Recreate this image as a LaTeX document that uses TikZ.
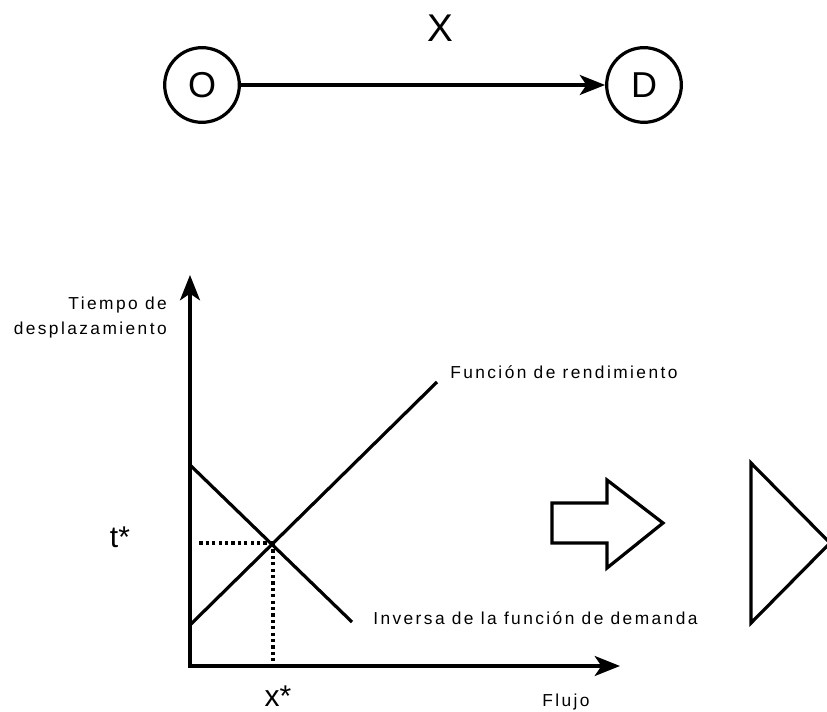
\documentclass[tikz,border=0pt]{standalone}
\usepackage{fontspec}
\setmainfont{Liberation Sans}
\newfontfamily\lblfont[LetterSpace=14]{Liberation Sans}
\usetikzlibrary{arrows.meta}

\begin{document}
\begin{tikzpicture}[x=0.75pt, y=-0.75pt,
  stop/.style={draw, circle, line width=2.4pt, minimum size=56pt, inner sep=0pt, font=\fontsize{27}{32}\selectfont},
  big/.style={font=\fontsize{29}{34}\selectfont, inner sep=0pt},
  mid/.style={font=\fontsize{22.5}{27}\selectfont, inner sep=0pt},
  lbl/.style={font=\lblfont\fontsize{13}{18.75}\selectfont, inner sep=0pt},
  arr/.style={-{Stealth[length=19pt, width=15pt, inset=5pt]}, line width=2.4pt},
  axis/.style={{Stealth[length=19pt, width=15pt, inset=5pt]}-{Stealth[length=19pt, width=15pt, inset=5pt]}, line width=2.4pt},
  ln/.style={line width=2.4pt},
  guide/.style={line width=2.4pt, dash pattern=on 2.4pt off 2.4pt}
]
  \useasboundingbox (0,0) rectangle (827,712);

  \node[stop] (O) at (202,85) {O};
  \node[stop] (D) at (644,85) {D};
  \node[big] (flow) at (440,28) {X};
  \draw[arr] (O) -- (D);

  \coordinate (orig) at (190,666);
  \coordinate (ytop) at (190,275);
  \coordinate (xend) at (620,666);
  \coordinate (perf0) at (190,625);
  \coordinate (perf1) at (437,382);
  \coordinate (dem0) at (190,465);
  \coordinate (dem1) at (352,622);
  \coordinate (eq) at (273,543);

  \draw[axis] (ytop) -- (orig) -- (xend);
  \draw[ln] (perf0) -- (perf1);
  \draw[ln] (dem0) -- (dem1);
  \draw[guide] (eq) -- ([xshift=6] eq -| orig);
  \draw[guide] (eq) -- (eq |- orig);

  \node[lbl, align=right, anchor=east] (ylbl) at (167,318) {Tiempo de\\desplazamiento};
  \node[lbl, anchor=base] (xlbl) at (566,706) {Flujo};
  \node[lbl, anchor=west] (perflbl) at (450,372) {Función de rendimiento};
  \node[lbl, anchor=west] (demlbl) at (373,618) {Inversa de la función de demanda};
  \node[mid] (tstar) at (120,537) {t*};
  \node[mid, anchor=base] (xstar) at (278,706) {x*};

  \draw[ln] (552,503) -- (607,503) -- (607,480) -- (663,523) -- (607,568) -- (607,543) -- (552,543) -- cycle;
  \draw[ln] (751,463) -- (830,543) -- (751,623) -- cycle;
\end{tikzpicture}
\end{document}
